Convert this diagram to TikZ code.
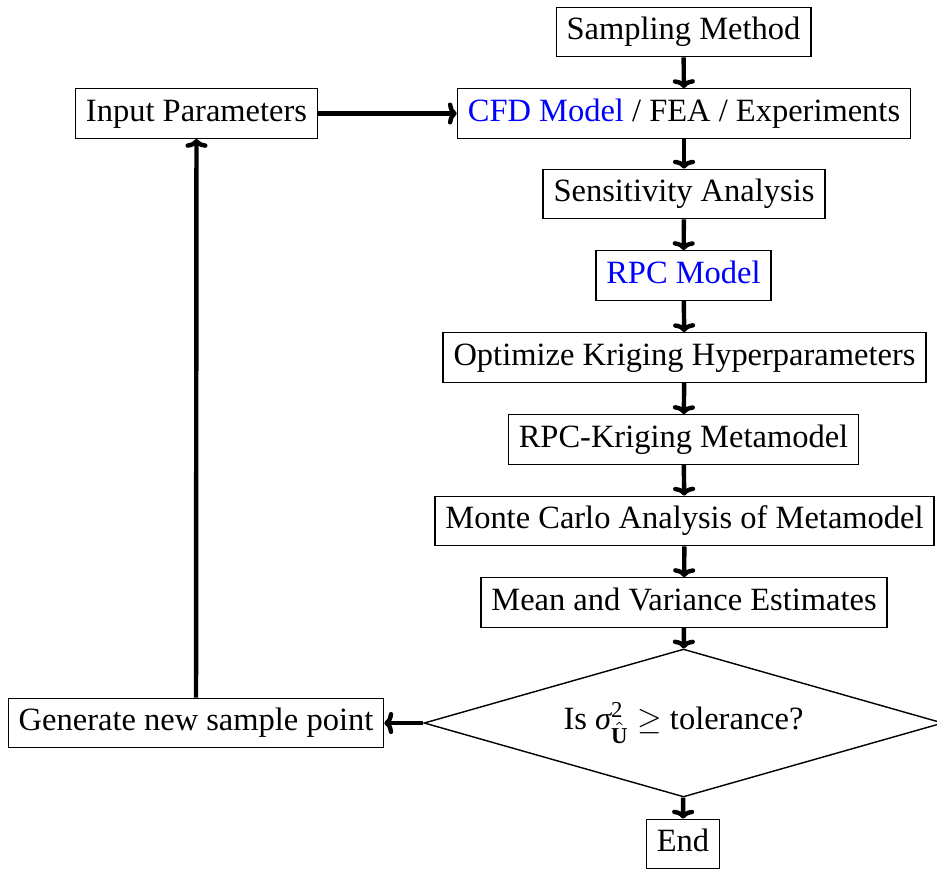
\documentclass[tikz,border=0pt]{standalone}
\usepackage{fontspec}
\usepackage{amsmath}
\setmainfont{Liberation Serif}
\usetikzlibrary{shapes.geometric,arrows.meta}
\definecolor{linkblue}{RGB}{0,0,255}
\begin{document}
\begin{tikzpicture}[x=0.317pt,y=-0.317pt,
  box/.style={draw,line width=0.45pt,rectangle,font=\fontsize{10.3}{12}\selectfont,
    text height=7.1pt,text depth=2.2pt,inner xsep=3.3pt,inner ysep=3.2pt},
  decision/.style={draw,line width=0.45pt,diamond,font=\fontsize{10.3}{12}\selectfont,
    minimum width=164.5pt,minimum height=46.9pt,inner sep=0pt,aspect=3.5},
  flow/.style={line width=1.4pt,-{To[length=2.8pt,width=7pt]}}]
\useasboundingbox (0,0) rectangle (937,871);
\node[box] (samp) at (683.5,32) {Sampling Method};
\node[box] (cfd) at (684,113.5) {\textcolor{linkblue}{CFD Model} / FEA / Experiments};
\node[box] (inp) at (196.5,113.5) {Input Parameters};
\node[box] (sens) at (684,194) {Sensitivity Analysis};
\node[box] (rpc) at (683.5,275.5) {\textcolor{linkblue}{RPC Model}};
\node[box] (opt) at (684.5,357.5) {Optimize Kriging Hyperparameters};
\node[box] (rk) at (683.5,439.5) {RPC-Kriging Metamodel};
\node[box] (mc) at (684.5,521) {Monte Carlo Analysis of Metamodel};
\node[box] (mean) at (684,602.5) {Mean and Variance Estimates};
\node[decision] (dec) at (683.5,723) {Is {\itshape σ}$^{\text{2}}_{\hat{\text{\bfseries U}}}$\ $\geq$\ tolerance?};
\node[box] (gen) at (196,723) {Generate new sample point};
\node[box] (end) at (683,844) {End};
\draw[flow] (samp) -- (cfd);
\draw[flow] (inp) -- (cfd);
\draw[flow] (cfd) -- (sens);
\draw[flow] (sens) -- (rpc);
\draw[flow] (rpc) -- (opt);
\draw[flow] (opt) -- (rk);
\draw[flow] (rk) -- (mc);
\draw[flow] (mc) -- (mean);
\draw[flow] (mean) -- (dec);
\draw[flow] (dec) -- (end);
\draw[flow] (dec) -- (gen);
\draw[flow] (gen) -- (inp);
\end{tikzpicture}
\end{document}
